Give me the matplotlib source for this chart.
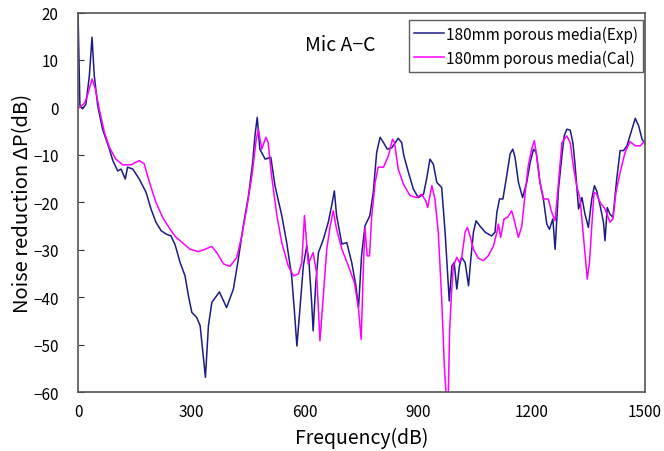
import matplotlib
matplotlib.use("Agg")
import matplotlib.pyplot as plt

plt.rcParams['font.family'] = ['Noto Sans CJK JP', 'DejaVu Sans']

exp_f = [0, 3, 5, 12, 21, 30, 37, 43, 52, 65, 83, 92, 105, 114, 125, 131, 145, 162, 180, 193, 206, 220, 233, 246, 257,
         270, 283, 292, 301, 314, 323, 332, 337, 345, 354, 374, 393, 411, 424, 437, 451, 462, 468, 474, 481, 495,
         510, 521, 539, 552, 565, 572, 579, 587, 596, 605, 611, 618, 622, 629, 636, 649, 662, 671, 678, 684, 698,
         711, 724, 735, 742, 750, 759, 772, 781, 790, 799, 808, 818, 830, 847, 856, 862, 874, 887, 900, 914, 922,
         931, 940, 949, 962, 971, 982, 989, 995, 1002, 1009, 1015, 1024, 1033, 1039, 1046, 1053, 1063, 1077, 1094,
         1103, 1108, 1115, 1124, 1134, 1143, 1150, 1156, 1165, 1176, 1187, 1196, 1205, 1212, 1222, 1231, 1240, 1247,
         1256, 1262, 1271, 1280, 1286, 1293, 1302, 1309, 1315, 1324, 1333, 1341, 1350, 1359, 1366, 1372, 1381, 1390,
         1394, 1400, 1407, 1415, 1425, 1434, 1443, 1452, 1460, 1474, 1483, 1492, 1500]
exp_v = [20, 8, 0.4, -0.3, 0.7, 6.7, 14.8, 6.7, 0.4, -4.6, -8.8, -11.2, -13.4, -13, -15.1, -12.6, -13, -15.1, -17.9, -21.4,
         -24.2, -26, -26.7, -27.1, -29.0, -32.7, -35.5, -39.7, -43.2, -44.3, -46, -53.1, -56.9, -46, -41.1, -38.9, -42.2,
         -38.3, -32, -25, -18.6, -11.6, -6, -2.1, -8.8, -10.9, -10.5, -16.5, -22.8, -28.5, -35.5, -42.5, -50.3, -42.5,
         -33.4, -29.2, -32.7, -41.1, -47.1, -36.9, -30.6, -27.8, -24.2, -20.7, -17.6, -22.8, -28.8, -28.5, -32.7, -37.6,
         -42.2, -31.3, -25, -22.8, -17.9, -9.5, -6.3, -7.4, -8.8, -8.5, -6.5, -7.4, -10.2, -13.7, -17.2, -19, -18.3,
         -15.1, -10.9, -12, -15.8, -16.9, -26.3, -40.8, -33.4, -32.7, -38.3, -33.4, -31.6, -32.7, -37.6, -32, -26.3,
         -23.9, -25, -26.3, -27.1, -26.3, -22.1, -19.3, -19.3, -14.4, -9.8, -8.8, -10.5, -15.8, -19, -15.8, -11.6, -8.8,
         -9.5, -15.8, -19.3, -24.6, -25.7, -23.5, -29.9, -17.2, -10.2, -6, -4.6, -4.8, -7.4, -12.3, -21.4, -19, -22.5,
         -25.3, -19.3, -16.5, -17.6, -20.7, -24.2, -28.1, -21.1, -22.5, -23.2, -15.1, -9.1, -9.1, -8.1, -6, -2.3, -3.9,
         -6.7, -7.7]

cal_f = [0, 5, 18, 26, 37, 46, 56, 70, 83, 100, 118, 140, 162, 175, 189, 206, 224, 242, 257, 270, 296, 318, 336, 354,
         367, 385, 402, 420, 433, 446, 460, 471, 477, 486, 497, 503, 512, 526, 539, 556, 570, 583, 592, 599, 609, 622,
         631, 640, 649, 658, 667, 675, 684, 698, 715, 731, 742, 749, 755, 759, 765, 771, 777, 786, 794, 808, 821, 832,
         837, 847, 861, 878, 896, 909, 920, 925, 936, 944, 953, 962, 969, 975, 978, 983, 988, 993, 1002, 1009, 1015,
         1024, 1030, 1037, 1046, 1059, 1072, 1085, 1099, 1108, 1112, 1118, 1127, 1136, 1147, 1153, 1165, 1174, 1183,
         1191, 1200, 1207, 1214, 1222, 1231, 1244, 1253, 1262, 1271, 1280, 1293, 1302, 1310, 1319, 1328, 1337, 1344,
         1347, 1353, 1359, 1365, 1372, 1381, 1394, 1407, 1415, 1423, 1434, 1447, 1460, 1474, 1487, 1500]
cal_v = [0, 0, 1, 2.8, 6, 3.9, -0.3, -5.3, -8.4, -10.9, -12.1, -12.1, -11.2, -11.9, -15.8, -20, -23.2, -25.5, -27.2,
         -28.1, -29.9, -30.4, -29.9, -29.3, -30.6, -33, -33.5, -31.6, -27.1, -21.4, -14.4, -7, -4.6, -8.8, -6.3, -7.4,
         -14.4, -22.8, -28.5, -33.4, -35.5, -35.1, -32.7, -22.8, -33, -30.6, -34.8, -49.2, -39.7, -29.9, -25, -21.8,
         -25.7, -29.9, -33.4, -36.9, -42.5, -48.9, -33.4, -25.3, -31.3, -31.3, -22.8, -15.8, -12.6, -12.6, -10.2, -6.7,
         -7.4, -13, -16.2, -18.6, -19, -18.3, -19.7, -21.1, -16.5, -19.3, -26.3, -40.4, -54.5, -62, -66, -47, -39,
         -33.4, -31.6, -32.7, -31.6, -26.3, -25.3, -27.1, -29.9, -31.8, -32.3, -31.3, -29.2, -26.3, -24.6, -27.4,
         -23.5, -23.2, -21.8, -23.5, -27.4, -25, -17.9, -12.3, -8.8, -7, -10.5, -15.8, -19.3, -19.3, -22.1, -23.9,
         -15.8, -7.4, -6, -7.4, -12.3, -16.5, -19.3, -27.1, -33.4, -36.2, -32.7, -25, -17.9, -18.3, -20, -21.4, -24.2,
         -23.5, -17.9, -13.7, -9.5, -7.2, -8.1, -8.1, -7]

x_ticks = [0, 300, 600, 900, 1200, 1500]
y_ticks = [20, 10, 0, -10, -20, -30, -40, -50, -60]

fig = plt.figure(figsize=(6.64, 4.52), dpi=100)
ax = fig.add_axes([0.1175, 0.1305, 0.854, 0.8395])
ax.plot(exp_f, exp_v, color='#1c1c85', lw=1.1, label='180mm porous media(Exp)')
ax.plot(cal_f, cal_v, color='#ff00ff', lw=1.1, label='180mm porous media(Cal)')
ax.set_xlim(0, 1500)
ax.set_ylim(-60, 20)
ax.set_xticks(x_ticks)
ax.set_yticks(y_ticks)
ax.set_yticklabels([str(t) if t >= 0 else '\u2212' + str(-t) for t in y_ticks])
ax.tick_params(axis='y', direction='in', length=4, labelsize=11, pad=14, color='#333333')
ax.tick_params(axis='x', length=0, labelsize=11, pad=8)
for s in ax.spines.values():
    s.set_color('#555555')
    s.set_linewidth(1.2)
ax.set_xlabel('Frequency(dB)', fontsize=14, labelpad=5)
ax.set_ylabel('Noise reduction \u0394P(dB)', fontsize=14.5, labelpad=0)
ax.text(0.40, 0.917, 'Mic A\u2212C', transform=ax.transAxes, fontsize=14, va='center', ha='left')
leg = ax.legend(loc='upper right', bbox_to_anchor=(0.997, 0.98), fontsize=11, handlelength=2.0,
                handletextpad=0.1, frameon=True, fancybox=False, borderpad=0.35, labelspacing=0.45,
                borderaxespad=0)
leg.get_frame().set_edgecolor('#333333')
leg.get_frame().set_linewidth(1.0)
fig.savefig('out.png', dpi=100)
